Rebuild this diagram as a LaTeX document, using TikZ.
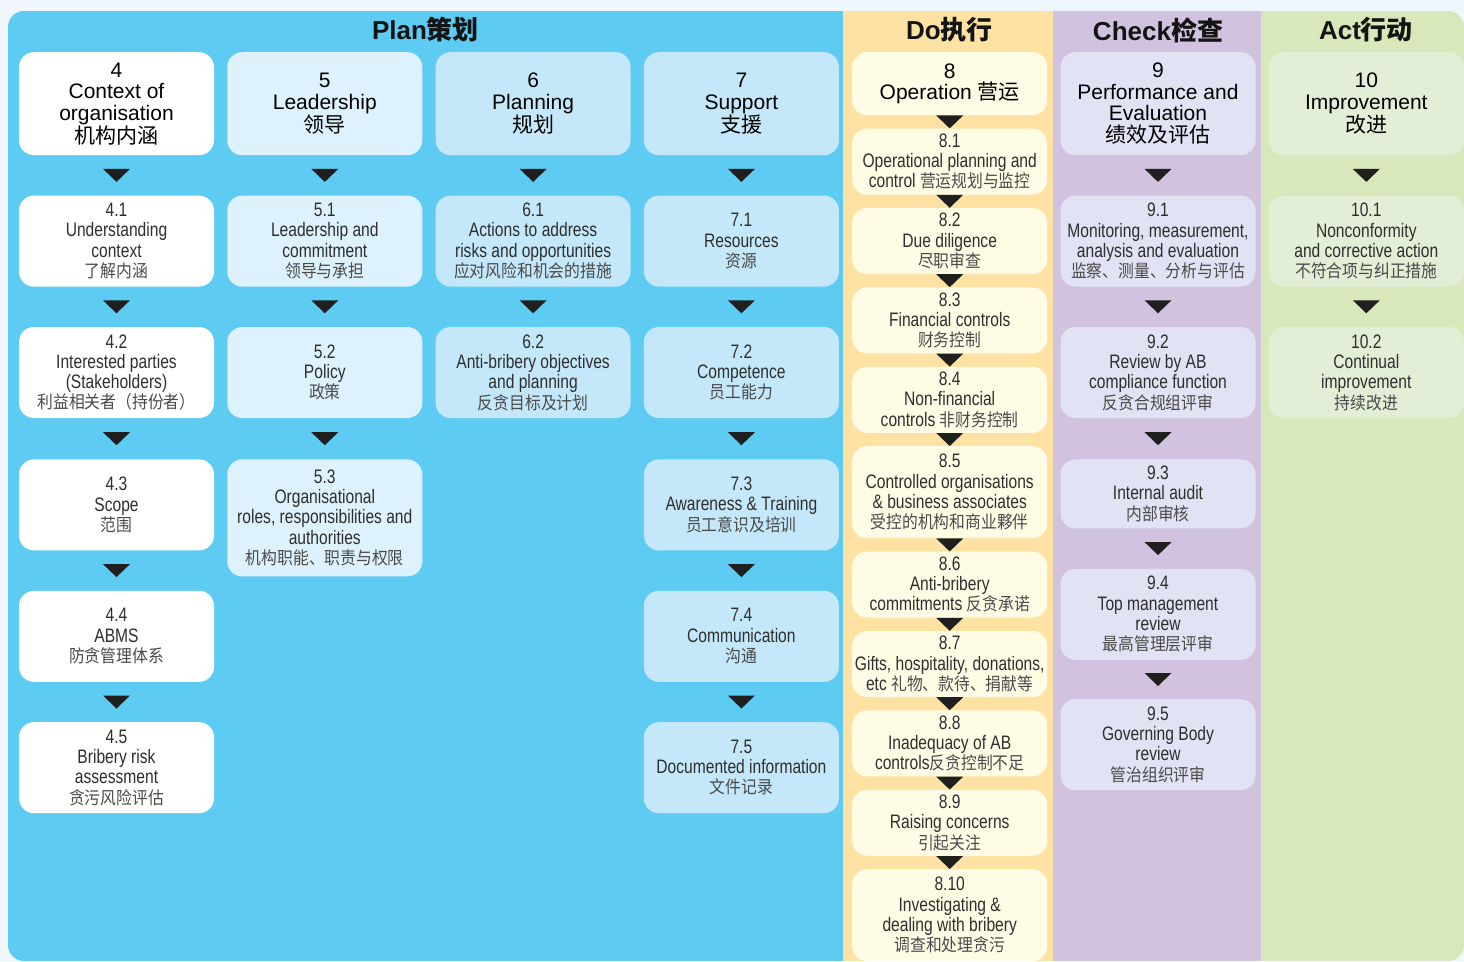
\documentclass[tikz,border=0pt]{standalone}
\usepackage{fontspec}
\setmainfont{Liberation Sans}
\newfontfamily\narrowfont{Liberation Sans}[FakeStretch=0.8]
\newfontfamily\cjk{Noto Sans CJK SC}
\newfontfamily\cjknarrow{Noto Sans CJK SC}[FakeStretch=0.9,Scale=0.9]
\usetikzlibrary{positioning,calc}

\definecolor{pagebg}{HTML}{EFF6FD}
\definecolor{planbg}{HTML}{5ECBF3}
\definecolor{dobg}{HTML}{FEE2A3}
\definecolor{checkbg}{HTML}{D1C3E0}
\definecolor{actbg}{HTML}{D9E8BB}
\definecolor{palefill}{HTML}{DDF2FC}
\definecolor{bluefill}{HTML}{C4E8FA}
\definecolor{dofill}{HTML}{FFFCE6}
\definecolor{checkfill}{HTML}{E1E2F3}
\definecolor{actfill}{HTML}{E3EED7}
\definecolor{bodytext}{HTML}{2E2E2E}
\definecolor{zhgrey}{HTML}{4A4A4A}

\newcommand{\zhfont}{\cjk}
\newcommand{\zh}[1]{{\zhfont #1}}
\newcommand{\bodyfont}{\narrowfont\fontsize{19.5}{20.3}\selectfont
  \renewcommand{\zhfont}{\cjknarrow\color{zhgrey}}}
\newcommand{\headfont}{\fontsize{21}{21.5}\selectfont}
% small black triangle half way between two boxes
\newcommand{\flow}[2]{\fill[black!88] ($(#1.south)!.5!(#2.north)$) +(-13.5,-6.5) -- +(13.5,-6.5) -- +(0,6.5) -- cycle;}

\begin{document}
\begin{tikzpicture}[x=1pt,y=-1pt,
  box/.style={rounded corners=15pt,align=flush center,text width=195pt,inner xsep=0pt,inner ysep=0pt,
    minimum height=91pt,anchor=north,text=bodytext,font=\bodyfont},
  head/.style={minimum height=103pt,text=black,font=\headfont},
  wbox/.style={box,fill=white},
  pbox/.style={box,fill=palefill},
  bbox/.style={box,fill=bluefill},
  dbox/.style={box,fill=dofill,minimum height=66pt},
  cbox/.style={box,fill=checkfill},
  abox/.style={box,fill=actfill},
  title/.style={font=\fontsize{26}{26}\selectfont\bfseries,text=black!92,inner sep=0pt}]
\useasboundingbox (0,0) rectangle (1464,961);
\fill[pagebg] (0,0) rectangle (1464,961);
\begin{scope}
  \clip[rounded corners=16pt] (8,11) rectangle (1464,961);
  \fill[planbg] (8,11) rectangle (843,961);
  \fill[dobg] (843,11) rectangle (1053,961);
  \fill[checkbg] (1053,11) rectangle (1261,961);
  \fill[actbg] (1261,11) rectangle (1464,961);
\end{scope}

\node[title] (tplan) at (425.5,30) {Plan\zh{策划}};
\node[title] (tdo) at (949.5,30) {Do\zh{执行}};
\node[title] (tcheck) at (1158,30) {Check\zh{检查}};
\node[title] (tact) at (1366,30) {Act\zh{行动}};

% Plan
\node[wbox,head] (n4) at (116.5,52) {4\\Context of\\organisation\\\zh{机构内涵}};
\node[wbox,below=40pt of n4] (n41) {4.1\\Understanding\\context\\\zh{了解内涵}};
\node[wbox,below=40pt of n41] (n42) {4.2\\Interested parties\\(Stakeholders)\\\zh{利益相关者（持份者）}};
\node[wbox,below=41pt of n42] (n43) {4.3\\Scope\\\zh{范围}};
\node[wbox,below=40pt of n43] (n44) {4.4\\ABMS\\\zh{防贪管理体系}};
\node[wbox,below=40pt of n44] (n45) {4.5\\Bribery risk\\assessment\\\zh{贪污风险评估}};

\node[pbox,head] (n5) at (324.8,52) {5\\Leadership\\\zh{领导}};
\node[pbox,below=40pt of n5] (n51) {5.1\\Leadership and\\commitment\\\zh{领导与承担}};
\node[pbox,below=40pt of n51] (n52) {5.2\\Policy\\\zh{政策}};
\node[pbox,below=41pt of n52,minimum height=117pt] (n53) {5.3\\Organisational\\roles, responsibilities and\\authorities\\\zh{机构职能、职责与权限}};

\node[bbox,head] (n6) at (533.1,52) {6\\Planning\\\zh{规划}};
\node[bbox,below=40pt of n6] (n61) {6.1\\Actions to address\\risks and opportunities\\\zh{应对风险和机会的措施}};
\node[bbox,below=40pt of n61] (n62) {6.2\\Anti-bribery objectives\\and planning\\\zh{反贪目标及计划}};

\node[bbox,head] (n7) at (741.4,52) {7\\Support\\\zh{支援}};
\node[bbox,below=40pt of n7] (n71) {7.1\\Resources\\\zh{资源}};
\node[bbox,below=40pt of n71] (n72) {7.2\\Competence\\\zh{员工能力}};
\node[bbox,below=41pt of n72] (n73) {7.3\\Awareness \& Training\\\zh{员工意识及培训}};
\node[bbox,below=40pt of n73] (n74) {7.4\\Communication\\\zh{沟通}};
\node[bbox,below=40pt of n74] (n75) {7.5\\Documented information\\\zh{文件记录}};

% Do
\node[dbox,head,minimum height=63pt] (n8) at (949.7,52) {8\\Operation \zh{营运}};
\node[dbox,below=13pt of n8] (n81) {8.1\\Operational planning and\\control \zh{营运规划与监控}};
\node[dbox,below=13pt of n81] (n82) {8.2\\Due diligence\\\zh{尽职审查}};
\node[dbox,below=13pt of n82] (n83) {8.3\\Financial controls\\\zh{财务控制}};
\node[dbox,below=13pt of n83] (n84) {8.4\\Non-financial\\controls \zh{非财务控制}};
\node[dbox,below=13pt of n84,minimum height=92pt] (n85) {8.5\\Controlled organisations\\\& business associates\\\zh{受控的机构和商业夥伴}};
\node[dbox,below=13pt of n85] (n86) {8.6\\Anti-bribery\\commitments \zh{反贪承诺}};
\node[dbox,below=13pt of n86] (n87) {8.7\\Gifts, hospitality, donations,\\etc \zh{礼物、款待、捐献等}};
\node[dbox,below=13pt of n87] (n88) {8.8\\Inadequacy of AB\\controls\zh{反贪控制不足}};
\node[dbox,below=13pt of n88] (n89) {8.9\\Raising concerns\\\zh{引起关注}};
\node[dbox,below=13pt of n89,minimum height=92pt] (n810) {8.10\\Investigating \&\\dealing with bribery\\\zh{调查和处理贪污}};

% Check
\node[cbox,head] (n9) at (1158,52) {9\\Performance and\\Evaluation\\\zh{绩效及评估}};
\node[cbox,below=40pt of n9] (n91) {9.1\\Monitoring, measurement,\\analysis and evaluation\\\zh{监察、测量、分析与评估}};
\node[cbox,below=40pt of n91] (n92) {9.2\\Review by AB\\compliance function\\\zh{反贪合规组评审}};
\node[cbox,below=41pt of n92,minimum height=69pt] (n93) {9.3\\Internal audit\\\zh{内部审核}};
\node[cbox,below=40pt of n93] (n94) {9.4\\Top management\\review\\\zh{最高管理层评审}};
\node[cbox,below=39pt of n94] (n95) {9.5\\Governing Body\\review\\\zh{管治组织评审}};

% Act
\node[abox,head] (n10) at (1366.3,52) {10\\Improvement\\\zh{改进}};
\node[abox,below=40pt of n10] (n101) {10.1\\Nonconformity\\and corrective action\\\zh{不符合项与纠正措施}};
\node[abox,below=40pt of n101] (n102) {10.2\\Continual\\improvement\\\zh{持续改进}};

\foreach \a/\b in {n4/n41,n41/n42,n42/n43,n43/n44,n44/n45,n5/n51,n51/n52,n52/n53,
  n6/n61,n61/n62,n7/n71,n71/n72,n72/n73,n73/n74,n74/n75,
  n8/n81,n81/n82,n82/n83,n83/n84,n84/n85,n85/n86,n86/n87,n87/n88,n88/n89,n89/n810,
  n9/n91,n91/n92,n92/n93,n93/n94,n94/n95,n10/n101,n101/n102}
  {\flow{\a}{\b}}
\end{tikzpicture}
\end{document}
